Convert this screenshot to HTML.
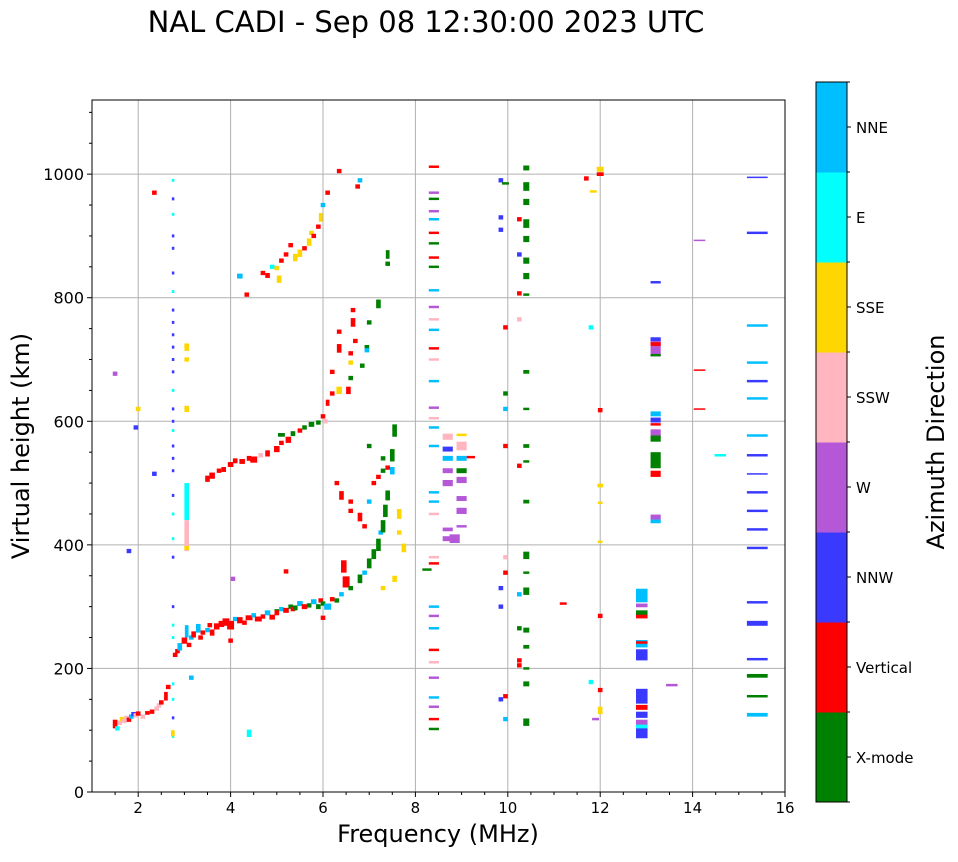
<!DOCTYPE html>
<html><head><meta charset="utf-8"><style>
html,body{margin:0;padding:0;background:#fff;}
svg text{font-family:"DejaVu Sans","Liberation Sans",sans-serif;}
</style></head><body>
<svg id="chart" width="958" height="857" xmlns="http://www.w3.org/2000/svg">
<rect x="0" y="0" width="958" height="857" fill="#fff"/>
<text x="426" y="32" font-size="29" text-anchor="middle">NAL CADI - Sep 08 12:30:00 2023 UTC</text>
<g id="grid"></g>
<g id="marks"></g>
<g id="axes"></g>
<text x="438" y="842" font-size="24" text-anchor="middle">Frequency (MHz)</text>
<text transform="translate(29,446) rotate(-90)" font-size="24" text-anchor="middle">Virtual height (km)</text>
<g id="cbar"></g>
<text transform="translate(944,442) rotate(-90)" font-size="24" text-anchor="middle">Azimuth Direction</text>
</svg>
<script>
const xTicks=[2,4,6,8,10,12,14,16];
const yTicks=[0,200,400,600,800,1000];
const directions=["X-mode","Vertical","NNW","W","SSW","SSE","E","NNE"];
const dirColors=["#008000","#ff0000","#3a3aff","#b558d8","#ffb6c1","#ffd700","#00ffff","#00bfff"];
// echoes: [freq MHz, height km, direction index, optional freq width MHz, optional height span km]
const echoes=[
[1.5,110,1,0.1,14],[1.55,103,6],[1.6,112,4],[1.65,118,5],[1.7,115,4],[1.75,120,4],[1.8,117,1],[1.85,122,7],[1.9,126,2],[1.95,124,4],[2.0,127,1],[2.1,122,4],[2.2,128,1,0.1,6],[2.3,130,1],[2.4,135,4],[2.45,140,4],[2.5,145,1],[2.6,155,1,0.08,14],[2.65,170,1],[2.75,95,5,0.08,10],
[2.8,222,1],[2.85,228,1],[2.9,235,7,0.1,12],[3.0,245,1,0.12,10],[3.05,260,7,0.08,20],[3.1,238,1],[3.15,250,7],[3.2,255,1,0.1,10],[3.3,265,7,0.1,14],[3.35,250,1],[3.4,258,1],[3.5,262,7],[3.55,270,1],[3.6,258,1,0.1,10],[3.7,268,1,0.12,10],[3.8,272,1,0.12,10],[3.9,275,1,0.15,12],[4.0,270,1,0.15,14],[4.1,280,7],[4.2,278,1,0.12,10],[4.3,274,1],[4.4,282,1,0.15,8],[4.5,286,7],[4.6,280,1,0.15,8],[4.7,284,1],[4.8,290,7,0.12,8],[4.9,283,1,0.12,8],[5.0,292,0,0.1,8],[5.0,290,1,0.1,8],[5.1,296,7],[5.2,294,1,0.12,8],[5.3,300,0],[5.35,296,1],[5.4,298,0,0.1,8],[5.5,305,7,0.12,8],[5.6,300,1,0.12,8],[5.7,302,0],[5.8,308,7,0.12,8],[5.9,300,0,0.1,8],[5.95,310,1],[6.0,305,0],[6.1,300,7,0.15,10],[6.2,312,1],[6.3,310,0],[6.4,320,7],[6.5,340,1,0.15,18],[6.45,365,1,0.12,20],[6.6,330,0],[6.8,345,0,0.1,14],[6.9,355,7],[7.0,370,0,0.1,16],[7.1,385,0,0.1,16],[7.2,400,0,0.1,20],[7.25,420,7],[7.3,430,0,0.1,20],[7.35,455,0,0.1,20],[7.4,480,0,0.1,16],[7.5,520,7,0.1,12],[7.5,545,0,0.1,20],[7.55,585,0,0.1,20],[7.65,450,5,0.1,16],[7.65,420,5],[7.75,395,5,0.1,14],[7.55,345,5,0.1,10],[7.3,330,5],
[6.3,500,1],[6.4,480,1,0.1,14],[6.6,470,1],[6.6,455,1],[6.8,445,1,0.1,14],[6.9,430,1],[7.0,470,7],[7.1,500,1],[7.2,510,1],[7.3,520,0],[7.4,525,1],[7.0,560,0],[7.3,540,0],
[3.5,507,1,0.1,10],[3.6,512,1,0.12,10],[3.75,520,1],[3.85,522,1,0.1,8],[4.0,530,1,0.12,8],[4.1,536,1,0.1,8],[4.25,535,1,0.12,8],[4.4,540,1,0.1,8],[4.5,538,1,0.15,10],[4.65,545,4],[4.8,548,1,0.1,10],[5.0,555,1,0.12,10],[5.1,565,1],[5.25,570,1,0.12,10],[5.1,578,0,0.15,6],[5.35,580,0,0.1,8],[5.5,585,1],[5.6,590,0],[5.75,595,0,0.12,8],[5.9,598,0],[6.0,608,1],[6.05,600,4],[6.1,630,1,0.08,10],[6.2,645,1],[6.35,650,5,0.12,12],[6.55,650,1,0.1,12],[6.6,670,0],[6.2,680,1],[6.35,718,1,0.1,14],[6.35,745,1],[6.6,695,5],[6.6,710,1],[6.65,760,1,0.1,14],[6.65,780,1],[6.7,730,1],[6.85,690,0],[6.95,720,0],[7.0,760,0],[7.2,790,0,0.1,14],[6.95,715,7],
[4.2,835,7,0.12,8],[4.35,805,1],[4.7,840,1],[4.8,836,1,0.1,8],[4.9,850,6],[5.0,848,5],[5.05,830,5,0.1,12],[5.1,860,1],[5.2,870,1],[5.3,885,1],[5.4,865,5,0.1,12],[5.5,872,5,0.1,12],[5.6,880,1],[5.7,890,5,0.1,12],[5.75,905,5],[5.8,900,1],[5.9,915,1],[5.95,930,5,0.08,14],[6.0,950,7],[6.1,970,1],[6.35,1005,1],[6.8,990,7],[6.75,980,1],[7.4,870,0,0.08,14],[7.4,855,0],
[3.05,470,6,0.1,60],[3.05,415,4,0.1,50],[3.05,395,5],[3.05,720,5,0.1,12],[3.05,700,5],[3.05,620,5,0.1,10],[1.8,390,2],[1.5,677,3],[2.0,620,5],[1.95,590,2],[2.35,515,2],[2.35,970,1],[3.15,185,7],[4.4,95,6,0.1,12],[4.05,345,3],[4.0,245,1],[5.2,357,1],[6.0,282,1],
[8.4,1012,1,0.22,4],[8.4,970,3,0.22,4],[8.4,960,0,0.22,4],[8.4,940,3,0.22,4],[8.4,927,7,0.22,4],[8.4,905,1,0.22,4],[8.4,888,0,0.22,4],[8.4,865,1,0.22,4],[8.4,850,0,0.22,4],[8.4,812,7,0.22,4],[8.4,785,3,0.22,4],[8.4,765,4,0.22,4],[8.4,748,7,0.22,4],[8.4,718,1,0.22,4],[8.4,700,4,0.22,4],[8.4,665,7,0.22,4],[8.4,622,3,0.22,4],[8.4,605,4,0.22,4],[8.4,590,7,0.22,4],[8.4,560,7,0.22,4],[8.4,485,7,0.22,4],[8.4,470,7,0.22,4],[8.4,450,4,0.22,4],[8.4,380,4,0.22,4],[8.4,370,1,0.22,4],[8.4,300,7,0.22,4],[8.4,285,3,0.22,4],[8.4,265,7,0.22,4],[8.4,230,1,0.22,4],[8.4,210,4,0.22,4],[8.4,185,3,0.22,4],[8.4,153,7,0.22,4],[8.4,138,3,0.22,4],[8.4,118,1,0.22,4],[8.4,102,0,0.22,4],
[8.7,575,4,0.22,10],[8.7,555,2,0.22,8],[8.7,540,7,0.22,8],[8.7,520,3,0.22,8],[8.7,500,3,0.22,10],[8.7,425,3,0.22,6],[8.7,410,3,0.22,8],[9.0,578,5,0.22,4],[9.0,560,4,0.22,14],[9.0,540,7,0.22,8],[9.0,520,0,0.22,8],[9.0,505,3,0.22,10],[9.0,475,3,0.22,8],[9.0,455,3,0.22,10],[9.0,430,3,0.22,4],[8.85,410,3,0.22,14],[9.2,542,1,0.18,4],[8.25,360,0,0.2,4],
[9.85,990,2],[9.85,930,2],[9.85,910,2],[9.85,330,2],[9.85,300,2],[9.85,150,2],[9.95,985,0,0.15,4],[9.95,752,1],[9.95,645,0],[9.95,620,7],[9.95,560,1],[9.95,380,4],[9.95,355,1],[9.95,155,1],[9.95,118,7],
[10.4,1010,0,0.13,8],[10.4,980,0,0.13,14],[10.4,955,0,0.13,10],[10.4,920,0,0.13,14],[10.4,895,0,0.13,10],[10.4,860,0,0.13,10],[10.4,835,0,0.13,10],[10.4,805,0,0.13,4],[10.4,680,0,0.13,6],[10.4,620,0,0.13,4],[10.4,560,0,0.13,6],[10.4,535,0,0.13,4],[10.4,470,0,0.13,6],[10.4,383,0,0.13,12],[10.4,355,0,0.13,4],[10.4,325,0,0.13,12],[10.4,262,0,0.13,8],[10.4,235,0,0.13,6],[10.4,200,0,0.13,4],[10.4,175,0,0.13,8],[10.4,113,0,0.13,12],[10.25,807,1],[10.25,765,4],[10.25,528,1],[10.25,870,2],[10.25,320,7],[10.25,265,0],[10.25,213,1],[10.25,205,1],[10.25,927,1],
[12.0,1008,5,0.15,8],[12.0,1000,1,0.15,6],[11.85,972,5,0.15,4],[11.7,993,1],[12.0,618,1],[12.0,496,5,0.12,6],[12.0,468,5,0.1,4],[12.0,405,5,0.1,4],[12.0,285,1],[12.0,165,1],[12.0,132,5,0.1,12],[11.8,752,6],[11.8,178,6],[11.9,118,3,0.15,4],[11.2,305,1,0.15,4],[14.15,893,3,0.25,2],[14.15,683,1,0.25,2],[14.15,620,1,0.25,2],[14.6,545,6,0.25,4],[13.55,173,3,0.25,4],[13.2,825,2,0.22,4],
[13.2,720,3,0.22,30],[13.2,733,2,0.22,6],[13.2,725,1,0.22,6],[13.2,707,0,0.22,4],[13.2,612,7,0.22,8],[13.2,602,2,0.22,8],[13.2,595,1,0.22,4],[13.2,580,3,0.22,14],[13.2,572,0,0.22,10],[13.2,537,0,0.22,26],[13.2,515,1,0.22,10],[13.2,445,3,0.22,8],[13.2,438,7,0.22,6],
[12.9,318,7,0.25,22],[12.9,302,3,0.25,6],[12.9,290,0,0.25,8],[12.9,284,1,0.25,6],[12.9,240,7,0.25,12],[12.9,222,2,0.25,18],[12.9,242,1,0.25,4],[12.9,155,2,0.25,24],[12.9,137,1,0.25,8],[12.9,125,2,0.25,10],[12.9,112,3,0.25,10],[12.9,105,6,0.25,8],[12.9,95,2,0.25,16],
[15.4,995,2,0.45,2],[15.4,905,2,0.45,4],[15.4,755,7,0.45,4],[15.4,695,7,0.45,4],[15.4,665,2,0.45,4],[15.4,637,7,0.45,4],[15.4,577,7,0.45,4],[15.4,545,2,0.45,4],[15.4,515,2,0.45,2],[15.4,485,2,0.45,4],[15.4,455,2,0.45,4],[15.4,425,2,0.45,4],[15.4,395,2,0.45,4],[15.4,307,2,0.45,4],[15.4,273,2,0.45,8],[15.4,215,2,0.45,4],[15.4,188,0,0.45,6],[15.4,155,0,0.45,4],[15.4,125,7,0.45,6]
];
const dottedColumn=[990,960,935,900,880,840,810,780,760,740,720,700,680,650,620,600,585,560,540,520,480,450,410,380,300,270,250,175,150,120,90];

const NS="http://www.w3.org/2000/svg";
const X0=92,X1=785,Y0=792,Y1=100,F0=1,F1=16,H0=0,H1=1120;
const xs=f=>X0+(f-F0)/(F1-F0)*(X1-X0);
const ys=h=>Y0-(h-H0)/(H1-H0)*(Y0-Y1);
function mk(tag,attrs,parent){const e=document.createElementNS(NS,tag);for(const k in attrs)e.setAttribute(k,attrs[k]);parent.appendChild(e);return e;}
const grid=document.getElementById('grid'),marks=document.getElementById('marks'),axes=document.getElementById('axes'),cbar=document.getElementById('cbar');
xTicks.forEach(t=>{const g=mk('line',{x1:xs(t),x2:xs(t),y1:Y1,y2:Y0,stroke:'#b0b0b0','stroke-width':1},grid);

});
yTicks.forEach(t=>{if(t===0)return;const g=mk('line',{x1:X0,x2:X1,y1:ys(t),y2:ys(t),stroke:'#b0b0b0','stroke-width':1},grid);

});
dottedColumn.forEach(h=>{const r=mk('rect',{x:xs(2.75)-1,y:ys(h)-1.5,width:2.5,height:3,fill:(h%20===0)?'#3a3aff':'#00ffff'},marks);

});
echoes.forEach(e=>{const w=e[3]||0.1,dh=e[4]||7;const x=xs(e[0]-w/2),x2=xs(e[0]+w/2);const y=ys(e[1]+dh/2),y2=ys(e[1]-dh/2);
const r=mk('rect',{x:x,y:y,width:Math.max(1,x2-x),height:Math.max(1.5,y2-y),fill:dirColors[e[2]]},marks);

});
mk('rect',{x:X0,y:Y1,width:X1-X0,height:Y0-Y1,fill:'none',stroke:'#000','stroke-width':1},axes);
xTicks.forEach(t=>{mk('line',{x1:xs(t),x2:xs(t),y1:Y0,y2:Y0+5,stroke:'#000'},axes);
const l=mk('text',{x:xs(t),y:Y0+21,'font-size':15,'text-anchor':'middle'},axes);l.textContent=t;

});
for(let f=1.5;f<16;f+=0.5){if(f%2!==0)mk('line',{x1:xs(f),x2:xs(f),y1:Y0,y2:Y0+3,stroke:'#000'},axes);}
yTicks.forEach(t=>{mk('line',{x1:X0-5,x2:X0,y1:ys(t),y2:ys(t),stroke:'#000'},axes);
const l=mk('text',{x:X0-8,y:ys(t)+6,'font-size':16,'text-anchor':'end'},axes);l.textContent=t;

});
for(let h=50;h<1120;h+=50){if(h%200!==0)mk('line',{x1:X0-3,x2:X0,y1:ys(h),y2:ys(h),stroke:'#000'},axes);}
const CX=816,CW=31,CT=82,CB=802,seg=(CB-CT)/directions.length;
directions.forEach((d,i)=>{const y=CB-(i+1)*seg;
const r=mk('rect',{x:CX,y:y,width:CW,height:seg+0.5,fill:dirColors[i]},cbar);


mk('line',{x1:CX+CW,x2:CX+CW+4,y1:y+seg/2,y2:y+seg/2,stroke:'#000'},cbar);
const l=mk('text',{x:CX+CW+9,y:y+seg/2+6,'font-size':15},cbar);l.textContent=d;

});
for(let i=0;i<=directions.length;i++){mk('line',{x1:CX+CW,x2:CX+CW+3,y1:CT+i*seg,y2:CT+i*seg,stroke:'#000'},cbar);}
mk('rect',{x:CX,y:CT,width:CW,height:CB-CT,fill:'none',stroke:'#000'},cbar);
</script>
</body></html>
